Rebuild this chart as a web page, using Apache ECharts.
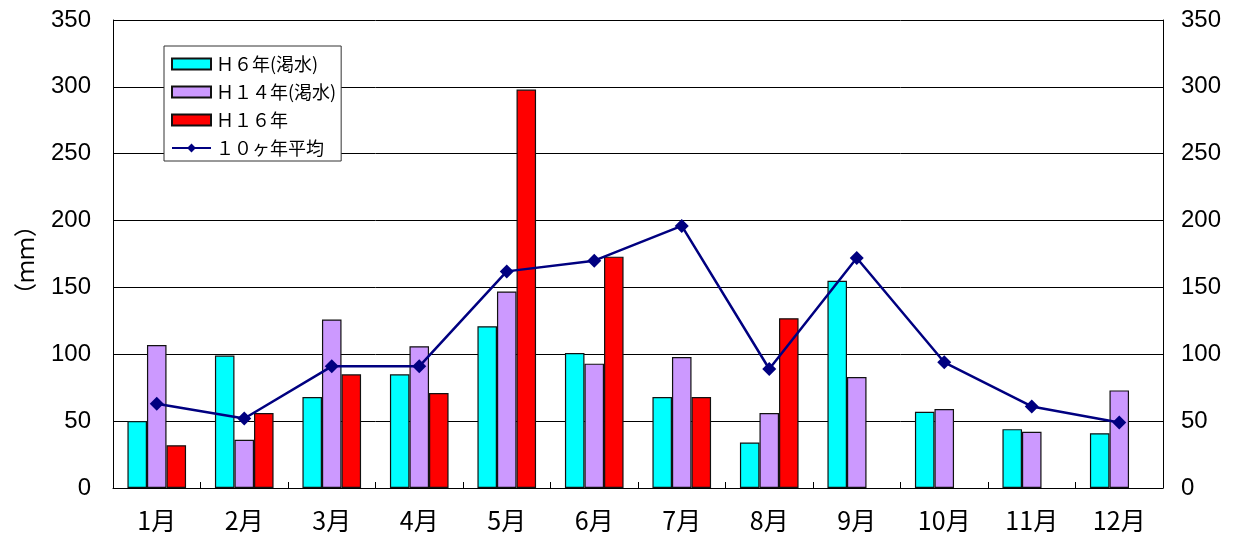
<!DOCTYPE html>
<html>
<head>
<meta charset="utf-8">
<script src="https://cdn.jsdelivr.net/npm/echarts@6/dist/echarts.min.js"></script>
<style>
html,body{margin:0;padding:0;background:#fff;}
#chart{width:1238px;height:541px;}
</style>
</head>
<body>
<div id="chart"></div>
<script>
const categories = ['1月','2月','3月','4月','5月','6月','7月','8月','9月','10月','11月','12月'];
const h6 = [50, 99, 68, 85, 121, 101, 68, 34, 155, 57, 44, 41];
const h14 = [107, 36, 126, 106, 147, 93, 98, 56, 83, 59, 42, 73];
const h16 = [32, 56, 85, 71, 298, 173, 68, 127, null, null, null, null];
const avg10 = [63, 52, 91, 91, 162, 170, 196, 89, 172, 94, 61, 49];
const seriesNames = ['Ｈ６年(渇水)', 'Ｈ１４年(渇水)', 'Ｈ１６年', '１０ヶ年平均'];
const yTicks = [0, 50, 100, 150, 200, 250, 300, 350];
const yName = '（ｍｍ）';

const chart = echarts.init(document.getElementById('chart'));
const labelFont = 'Liberation Sans, Arial, sans-serif';
const cjkFont = 'Noto Sans CJK JP';
const yMin = yTicks[0], yMax = yTicks[yTicks.length - 1], yStep = yTicks[1] - yTicks[0];

function barSeries(name, data, color) {
  return {
    name: name, type: 'bar', data: data,
    barGap: '0%', barCategoryGap: '33%',
    itemStyle: { color: color, borderColor: '#111', borderWidth: 1.2 },
    emphasis: { disabled: true }
  };
}

chart.setOption({
  animation: false,
  backgroundColor: '#fff',
  grid: { left: 113, right: 75, top: 20, bottom: 53, containLabel: false },
  graphic: [{
    type: 'text', left: 14, top: 214, rotation: Math.PI / 2,
    style: { text: yName, font: '23px "Noto Sans CJK JP"', fill: '#000' }
  }],
  legend: {
    left: 164, top: 46,
    orient: 'vertical',
    backgroundColor: '#fff',
    borderColor: '#333', borderWidth: 1,
    padding: [9, 5, 4, 7],
    itemWidth: 39, itemHeight: 11, itemGap: 10, itemTextGap: 7,
    textStyle: { fontFamily: cjkFont, fontSize: 18, color: '#000', lineHeight: 18 },
    data: [
      { name: seriesNames[0], icon: 'rect' },
      { name: seriesNames[1], icon: 'rect' },
      { name: seriesNames[2], icon: 'rect' },
      { name: seriesNames[3] }
    ]
  },
  xAxis: {
    type: 'category', data: categories,
    axisLine: { lineStyle: { color: '#000', width: 1 } },
    axisTick: { show: true, inside: true, length: 6, lineStyle: { color: '#000' } },
    axisLabel: { fontFamily: cjkFont, fontSize: 25, color: '#000', margin: 20 }
  },
  yAxis: [
    {
      type: 'value', min: yMin, max: yMax, interval: yStep,
      axisLine: { show: true, lineStyle: { color: '#000', width: 1 } },
      axisTick: { show: false },
      axisLabel: { fontFamily: labelFont, fontSize: 24, color: '#000', margin: 22 },
      splitLine: { show: true, lineStyle: { color: '#000', width: 1 } }
    },
    {
      type: 'value', min: yMin, max: yMax, interval: yStep, position: 'right',
      axisLine: { show: true, lineStyle: { color: '#000', width: 1 } },
      axisTick: { show: false },
      axisLabel: { fontFamily: labelFont, fontSize: 24, color: '#000', margin: 18 },
      splitLine: { show: false }
    }
  ],
  series: [
    barSeries(seriesNames[0], h6, '#00FFFF'),
    barSeries(seriesNames[1], h14, '#CC99FF'),
    barSeries(seriesNames[2], h16, '#FF0000'),
    {
      name: seriesNames[3], type: 'line', data: avg10,
      symbol: 'diamond', symbolSize: 14,
      lineStyle: { color: '#000080', width: 2.5 },
      itemStyle: { color: '#000080' },
      emphasis: { disabled: true },
      z: 5
    }
  ]
});
</script>
</body>
</html>
